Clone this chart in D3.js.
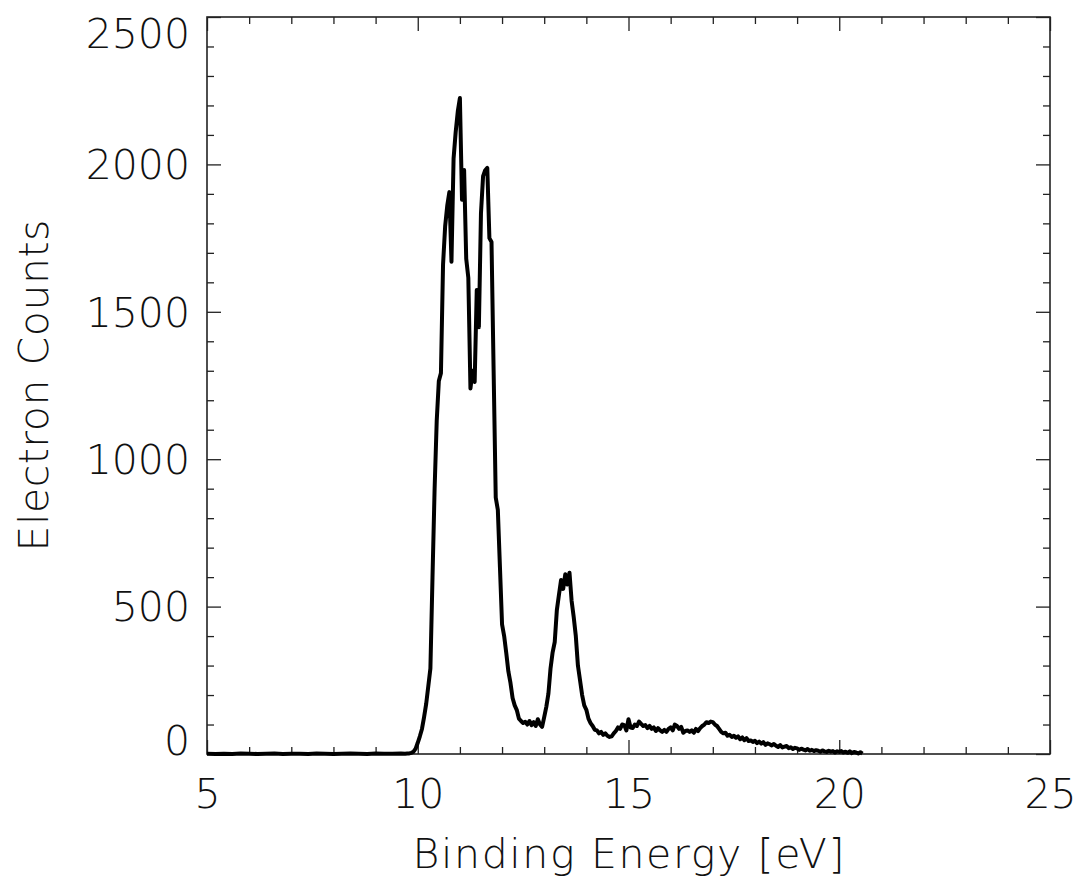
<!DOCTYPE html>
<html>
<head>
<meta charset="utf-8">
<script src="https://cdn.jsdelivr.net/npm/d3@7"></script>
<style>
  html, body { margin: 0; padding: 0; background: #fff; }
  svg { display: block; }
  text { font-family: "DejaVu Sans", sans-serif; font-weight: 200; fill: #111; }
</style>
</head>
<body>
<svg id="chart" width="1079" height="886"></svg>
<script>
// Photoelectron spectrum: binding energy (eV) vs. electron counts
const energy = [
  5.0, 5.2, 5.4, 5.6, 5.8, 6.0, 6.2, 6.4, 6.6, 6.8, 7.0, 7.2, 7.4, 7.6, 7.8,
  8.0, 8.2, 8.4, 8.6, 8.8, 9.0, 9.2, 9.4, 9.6,
  9.70, 9.75, 9.80, 9.85, 9.90, 9.95,
  10.00, 10.05, 10.10, 10.15, 10.20, 10.25, 10.30, 10.35, 10.40, 10.45,
  10.50, 10.55, 10.60, 10.65, 10.70, 10.75, 10.80, 10.85, 10.90, 10.95,
  11.00, 11.05, 11.10, 11.15, 11.20, 11.25, 11.30, 11.35, 11.40, 11.45,
  11.50, 11.55, 11.60, 11.65, 11.70, 11.75, 11.80, 11.85, 11.90, 11.95,
  12.00, 12.05, 12.10, 12.15, 12.20, 12.25, 12.30, 12.35, 12.40, 12.45,
  12.50, 12.55, 12.60, 12.65, 12.70, 12.75, 12.80, 12.85, 12.90, 12.95,
  13.00, 13.05, 13.10, 13.15, 13.20, 13.25, 13.30, 13.35, 13.40, 13.45,
  13.50, 13.55, 13.60, 13.65, 13.70, 13.75, 13.80, 13.85, 13.90, 13.95,
  14.00, 14.05, 14.10, 14.15, 14.20, 14.25, 14.30, 14.35, 14.40, 14.45,
  14.50, 14.55, 14.60, 14.65, 14.70, 14.75, 14.80, 14.85, 14.90, 14.95,
  15.00, 15.05, 15.10, 15.15, 15.20, 15.25, 15.30, 15.35, 15.40, 15.45,
  15.50, 15.55, 15.60, 15.65, 15.70, 15.75, 15.80, 15.85, 15.90, 15.95,
  16.00, 16.05, 16.10, 16.15, 16.20, 16.25, 16.30, 16.35, 16.40, 16.45,
  16.50, 16.55, 16.60, 16.65, 16.70, 16.75, 16.80, 16.85, 16.90, 16.95,
  17.00, 17.05, 17.10, 17.15, 17.20, 17.25, 17.30, 17.35, 17.40, 17.45,
  17.50, 17.55, 17.60, 17.65, 17.70, 17.75, 17.80, 17.85, 17.90, 17.95,
  18.00, 18.05, 18.10, 18.15, 18.20, 18.25, 18.30, 18.35, 18.40, 18.45,
  18.50, 18.55, 18.60, 18.65, 18.70, 18.75, 18.80, 18.85, 18.90, 18.95,
  19.00, 19.05, 19.10, 19.15, 19.20, 19.25, 19.30, 19.35, 19.40, 19.45,
  19.50, 19.55, 19.60, 19.65, 19.70, 19.75, 19.80, 19.85, 19.90, 19.95,
  20.00, 20.05, 20.10, 20.15, 20.20, 20.25, 20.30, 20.35, 20.40, 20.45,
  20.50, 20.55
];

const counts = [
  1, 0, 1, 0, 2, 1, 0, 1, 2, 0, 1, 1, 0, 2, 1,
  0, 1, 2, 1, 0, 2, 1, 1, 2,
  1, 2, 2, 4, 8, 18,
  38, 60, 85, 125, 170, 230, 290, 600, 900, 1130,
  1265, 1292, 1660, 1790, 1860, 1906, 1670, 2020, 2110, 2180,
  2225, 1880, 1981, 1680, 1615, 1240, 1300, 1262, 1574, 1448,
  1835, 1960, 1980, 1988, 1750, 1737, 1300, 870, 828, 634,
  440, 400, 343, 280, 241, 190, 165, 149, 120, 112,
  105, 109, 100, 112, 98, 108, 95, 118, 100, 92,
  125, 160, 205, 290, 345, 380, 488, 540, 590, 560,
  610, 575, 615, 520, 465, 400, 300, 250, 200, 165,
  150, 120, 105, 95, 82, 80, 70, 75, 65, 70,
  62, 58, 60, 70, 78, 90, 85, 100, 98, 80,
  118, 90, 88, 100, 95, 110, 102, 95, 98, 88,
  95, 85, 90, 78, 88, 80, 75, 82, 75, 85,
  90, 80, 100, 95, 85, 92, 72, 78, 80, 75,
  80, 72, 85, 78, 88, 95, 100, 108, 105, 110,
  108, 100, 95, 85, 75, 70, 72, 62, 65, 58,
  62, 55, 60, 50, 56, 47, 54, 44, 46, 41,
  45, 37, 42, 35, 40, 31, 36, 33, 29, 34,
  28, 24, 30, 22, 25, 27, 20, 23, 17, 21,
  19, 14, 18, 15, 12, 17, 11, 14, 10, 13,
  11, 8, 12, 9, 7, 11, 8, 10, 5, 9,
  7, 10, 5, 8, 4, 9, 3, 7, 5, 2,
  6, 1
];

const xMajorTicks = [5, 10, 15, 20, 25];
const xMinorTicks = [6, 7, 8, 9, 11, 12, 13, 14, 16, 17, 18, 19, 21, 22, 23, 24];
const yMajorTicks = [0, 500, 1000, 1500, 2000, 2500];
const yMinorTicks = [100, 200, 300, 400, 600, 700, 800, 900, 1100, 1200, 1300, 1400,
                     1600, 1700, 1800, 1900, 2100, 2200, 2300, 2400];

const xTitle = "Binding Energy [eV]";
const yTitle = "Electron Counts";

const svg = d3.select("#chart");
const W = 1079, H = 886;
const plot = { left: 207, right: 1050, top: 17, bottom: 754 };

svg.append("rect").attr("width", W).attr("height", H).attr("fill", "#fff");

const x = d3.scaleLinear().domain([5, 25]).range([plot.left, plot.right]);
const y = d3.scaleLinear().domain([0, 2500]).range([plot.bottom, plot.top]);

const majorLen = 14, minorLen = 7;
const tickColor = "#222";

function styleAxis(g) {
  g.select(".domain").remove();
  g.selectAll(".tick line").attr("stroke", tickColor).attr("stroke-width", 1.3);
  g.selectAll(".tick text")
    .attr("font-family", "DejaVu Sans, sans-serif")
    .attr("font-weight", 200)
    .attr("font-size", 41)
    .attr("fill", "#111");
}

// Bottom axis: major ticks with labels, minor ticks without
svg.append("g")
  .attr("transform", `translate(0,${plot.bottom})`)
  .call(d3.axisBottom(x).tickValues(xMajorTicks).tickSize(-majorLen).tickSizeOuter(0)
        .tickPadding(40).tickFormat(d3.format("d")))
  .call(styleAxis)
  .call(g => g.selectAll(".tick text").attr("dy", "0.35em"));
svg.append("g")
  .attr("transform", `translate(0,${plot.bottom})`)
  .call(d3.axisBottom(x).tickValues(xMinorTicks).tickSize(-minorLen).tickSizeOuter(0).tickFormat(""))
  .call(styleAxis);

// Top axis: ticks only
svg.append("g")
  .attr("transform", `translate(0,${plot.top})`)
  .call(d3.axisTop(x).tickValues(xMajorTicks).tickSize(-majorLen).tickSizeOuter(0).tickFormat(""))
  .call(styleAxis);
svg.append("g")
  .attr("transform", `translate(0,${plot.top})`)
  .call(d3.axisTop(x).tickValues(xMinorTicks).tickSize(-minorLen).tickSizeOuter(0).tickFormat(""))
  .call(styleAxis);

// Left axis: labels, extreme labels kept within the frame height
svg.append("g")
  .attr("transform", `translate(${plot.left},0)`)
  .call(d3.axisLeft(y).tickValues(yMajorTicks).tickSize(-majorLen).tickSizeOuter(0)
        .tickPadding(17).tickFormat(d3.format("d")))
  .call(styleAxis)
  .call(g => g.selectAll(".tick text").attr("dy", d => d === 2500 ? "0.75em" : d === 0 ? "-0.0em" : "0.35em"));
svg.append("g")
  .attr("transform", `translate(${plot.left},0)`)
  .call(d3.axisLeft(y).tickValues(yMinorTicks).tickSize(-minorLen).tickSizeOuter(0).tickFormat(""))
  .call(styleAxis);

// Right axis: ticks only
svg.append("g")
  .attr("transform", `translate(${plot.right},0)`)
  .call(d3.axisRight(y).tickValues(yMajorTicks).tickSize(-majorLen).tickSizeOuter(0).tickFormat(""))
  .call(styleAxis);
svg.append("g")
  .attr("transform", `translate(${plot.right},0)`)
  .call(d3.axisRight(y).tickValues(yMinorTicks).tickSize(-minorLen).tickSizeOuter(0).tickFormat(""))
  .call(styleAxis);

// Frame
svg.append("rect")
  .attr("x", plot.left).attr("y", plot.top)
  .attr("width", plot.right - plot.left).attr("height", plot.bottom - plot.top)
  .attr("fill", "none").attr("stroke", "#222").attr("stroke-width", 1.6);

// Spectrum
const points = energy.map((e, i) => [e, counts[i]]);
const line = d3.line().x(d => x(d[0])).y(d => y(d[1]));
svg.append("path")
  .datum(points)
  .attr("d", line)
  .attr("fill", "none")
  .attr("stroke", "#000")
  .attr("stroke-width", 4)
  .attr("stroke-linejoin", "round");

// Axis titles
svg.append("text")
  .attr("x", (plot.left + plot.right) / 2)
  .attr("y", 868)
  .attr("text-anchor", "middle")
  .attr("font-size", 41)
  .attr("textLength", 432)
  .attr("lengthAdjust", "spacing")
  .text(xTitle);

svg.append("text")
  .attr("transform", `translate(48,${(plot.top + plot.bottom) / 2}) rotate(-90)`)
  .attr("text-anchor", "middle")
  .attr("font-size", 41)
  .attr("textLength", 332)
  .attr("lengthAdjust", "spacing")
  .text(yTitle);
</script>
</body>
</html>
